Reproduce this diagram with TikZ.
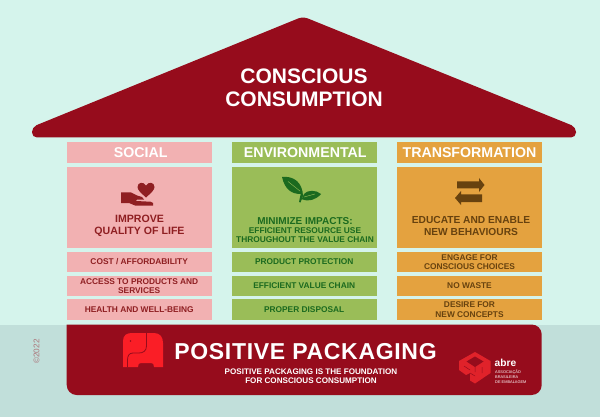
\documentclass[tikz,border=0pt]{standalone}
\usepackage{fontspec}
\setmainfont{Liberation Sans}
\usetikzlibrary{positioning}
\definecolor{skycol}{HTML}{D5F4EC}
\definecolor{floorcol}{HTML}{C1DFDA}
\definecolor{wine}{HTML}{960C1C}
\definecolor{redpack}{HTML}{FA1E26}
\definecolor{redabre}{HTML}{E0222A}
\definecolor{pinkbg}{HTML}{F2B1B2}
\definecolor{pinktx}{HTML}{8F1F22}
\definecolor{greenbg}{HTML}{9ABD58}
\definecolor{greentx}{HTML}{1B6A1F}
\definecolor{orangebg}{HTML}{E4A23F}
\definecolor{orangetx}{HTML}{67420F}
\tikzstyle{colbox} = [inner sep=0pt, outer sep=0pt, minimum width=145pt, align=center, font=\bfseries]
\tikzstyle{headbox} = [colbox, minimum height=20.5pt, text=white, font=\bfseries\fontsize{14.2}{16}\selectfont]
\tikzstyle{mainbox} = [colbox, minimum height=81pt]
\tikzstyle{rowbox} = [colbox, minimum height=20.5pt, font=\bfseries\fontsize{8.35}{9.4}\selectfont]
\tikzstyle{social} = [fill=pinkbg, text=pinktx]
\tikzstyle{enviro} = [fill=greenbg, text=greentx]
\tikzstyle{transf} = [fill=orangebg, text=orangetx]
\tikzstyle{bigtext} = [align=center, inner sep=0pt, font=\bfseries\fontsize{10.6}{11.4}\selectfont]
\begin{document}
\begin{tikzpicture}[x=1pt,y=-1pt]
\useasboundingbox (0,0) rectangle (600,417);

\fill [skycol] (0,0) rectangle (600,324.5);
\fill [floorcol] (0,324.5) rectangle (600,417);

% roof
\fill [wine, rounded corners=5pt] (303,16.5) -- (576,127) -- (576,137.5) -- (32,137.5) -- (32,127) -- cycle;
\node (roofT) [align=center, inner sep=0pt, text=white, font=\bfseries\fontsize{21}{23.5}\selectfont] at (304,88) {CONSCIOUS\\CONSUMPTION};

% social column
\node (socH) [headbox, social, text=white] at (139.2,152.5) {\hspace{3pt}SOCIAL};
\node (socM) [mainbox, social, below=4.5pt of socH] {};
\node (socT) [bigtext, text=pinktx] at (139.5,226) {IMPROVE\\QUALITY OF LIFE};
\node (socA) [rowbox, social, below=3.5pt of socM] {COST / AFFORDABILITY};
\node (socB) [rowbox, social, below=3.5pt of socA] {ACCESS TO PRODUCTS AND\\SERVICES};
\node (socC) [rowbox, social, below=3pt of socB] {HEALTH AND WELL-BEING};

% environmental column
\node (envH) [headbox, enviro, text=white] at (304.2,152.5) {\hspace{2pt}ENVIRONMENTAL};
\node (envM) [mainbox, enviro, below=4.5pt of envH] {};
\node (envT) [bigtext, text=greentx, font=\bfseries\fontsize{8.35}{9.4}\selectfont] at (305,230) {\fontsize{10}{10.5}\selectfont MINIMIZE IMPACTS:\\EFFICIENT RESOURCE USE\\THROUGHOUT THE VALUE CHAIN};
\node (envA) [rowbox, enviro, below=3.5pt of envM] {PRODUCT PROTECTION};
\node (envB) [rowbox, enviro, below=3.5pt of envA] {EFFICIENT VALUE CHAIN};
\node (envC) [rowbox, enviro, below=3pt of envB] {PROPER DISPOSAL};

% transformation column
\node (traH) [headbox, transf, text=white] at (469.5,152.5) {TRANSFORMATION};
\node (traM) [mainbox, transf, below=4.5pt of traH] {};
\node (traT) [bigtext, text=orangetx, font=\bfseries\fontsize{10.2}{11.4}\selectfont] at (471,226) {EDUCATE AND ENABLE\\NEW BEHAVIOURS};
\node (traA) [rowbox, transf, below=3.5pt of traM] {ENGAGE FOR\\CONSCIOUS CHOICES};
\node (traB) [rowbox, transf, below=3.5pt of traA] {NO WASTE};
\node (traC) [rowbox, transf, below=3pt of traB] {DESIRE FOR\\NEW CONCEPTS};

% hand and heart
\fill [pinktx] (146,197.5) .. controls (141,193) and (137.5,190) .. (137.5,187) .. controls (137.5,182) and (144,181.5) .. (146,185.5) .. controls (148,181.5) and (154.5,182) .. (154.5,187) .. controls (154.5,190) and (151,193) .. cycle;
\fill [pinktx] (121,192.5) -- (131,192.5) -- (137,195.5) -- (142,197) -- (144,199.5) -- (137,199.5) -- (136,201) -- (146,201.5) -- (150,201.5) -- (153,203) -- (153,205.5) -- (135,205.5) -- (129,203) -- (121,203) -- cycle;

% leaves
\fill [greentx] (282,177) .. controls (290,176) and (300,179) .. (302.5,191.5) -- (303,196) -- (300.5,202.5) -- (299,202) -- (300.7,194) .. controls (292,194) and (285,190) .. cycle;
\fill [greentx] (321,194) .. controls (316,189.5) and (307,190) .. (304,194) -- (301.7,199.3) .. controls (308,202) and (316,200) .. cycle;
\draw [greenbg, line width=0.4pt] (288,181.5) -- (300,191);
\draw [greenbg, line width=0.4pt] (304,197) -- (315,194);

% arrows
\fill [orangetx] (457,181.5) -- (479,181.5) -- (479,178) -- (484.5,185) -- (479,192) -- (479,188.5) -- (457,188.5) -- cycle;
\fill [orangetx] (482,194.5) -- (461,194.5) -- (461,191) -- (455,198) -- (461,205) -- (461,202) -- (482,202) -- cycle;

% base
\fill [wine, rounded corners=10pt] (66.7,324.5) [sharp corners] -- (66.7,324.5) [rounded corners=10pt] -- (66.7,395) -- (541.7,395) -- (541.7,324.5) [sharp corners] -- cycle;
\node (copyT) [rotate=90, inner sep=0pt, text=wine!50!floorcol, font=\fontsize{8.2}{9}\selectfont] at (36.5,351.5) {©2022};
\node (packT) [inner sep=0pt, text=white, font=\bfseries\fontsize{23}{24}\selectfont\addfontfeature{LetterSpace=3}] at (305.5,352) {POSITIVE PACKAGING};
\node (subT) [align=center, inner sep=0pt, text=white, font=\bfseries\fontsize{8.1}{9.2}\selectfont] at (311,376) {POSITIVE PACKAGING IS THE FOUNDATION\\FOR CONSCIOUS CONSUMPTION};

% elephant
\fill [redpack] (123,367) -- (123,341) .. controls (123,335) and (127,333) .. (132,333) -- (154,333) .. controls (160,333) and (163,337) .. (163,343) -- (163,367) -- (154,367) .. controls (154,364) and (153,363) .. (151,363) -- (141,363) .. controls (139,363) and (138,364) .. (138,367) -- cycle;
\draw [wine, line width=0.8pt] (146.5,333) -- (146.5,346) .. controls (146.5,351) and (143,353) .. (139,353) -- (133,353) .. controls (129,353) and (127.5,356) .. (127.5,360) -- (127.5,367);
\fill [wine] (130.5,341) circle (0.9pt);

% abre logo
\fill [redabre] (475,352) -- (490.5,361) -- (490.5,373) -- (475,383.5) -- (470,380.5) -- (470,373) -- (466,375) -- (459,370) -- (459,361) -- cycle;
\fill [wine] (466.5,361.5) -- (475,356.5) -- (483.5,361.5) -- (475,367) -- cycle;
\draw [wine, line width=0.5pt] (475,367) -- (475,372) (482,367) -- (482,373) (464,366) -- (470,370) (470,373) -- (475,376);
\node (abreT) [anchor=west, inner sep=0pt, text=white, font=\bfseries\fontsize{10.2}{12}\selectfont] at (494.5,363) {abre};
\node (abreS) [anchor=north west, align=left, inner sep=0pt, text=white, font=\fontsize{3.9}{5}\selectfont] at (495,370.3) {ASSOCIAÇÃO\\BRASILEIRA\\DE EMBALAGEM};

\end{tikzpicture}
\end{document}
